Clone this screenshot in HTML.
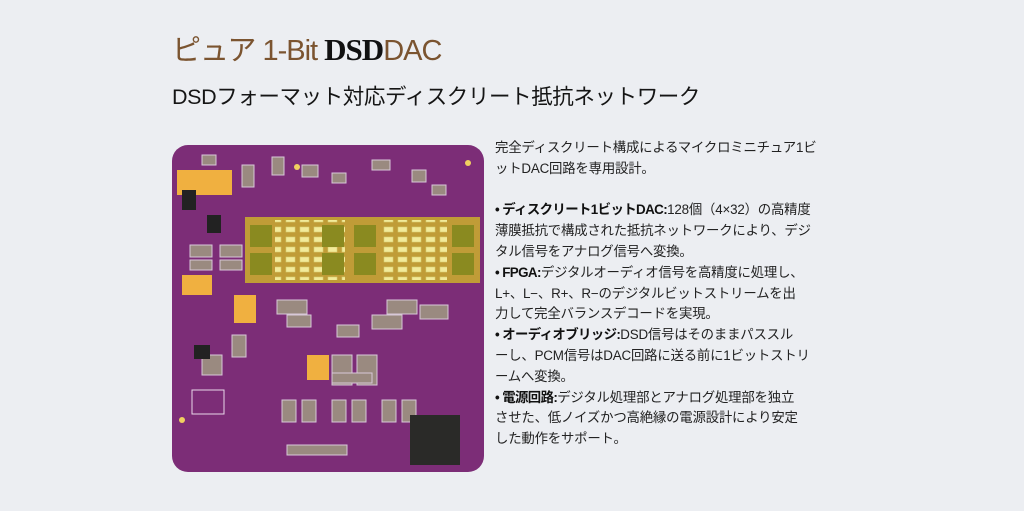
<!DOCTYPE html>
<html><head><meta charset="utf-8"><style>
body{margin:0;width:1024px;height:511px;background:#eceef2;position:relative;overflow:hidden;font-family:"Liberation Sans","Noto Sans CJK JP",sans-serif;}
.t1{position:absolute;left:172px;top:27px;font-size:29px;color:#7b5430;white-space:nowrap;letter-spacing:-1px}
.t1 b{font-family:"Liberation Serif","Noto Serif CJK SC",serif;color:#111;font-size:31px}
.t2{position:absolute;left:172px;top:80px;font-size:21.5px;color:#151515;white-space:nowrap;letter-spacing:-0.4px}
.txt{position:absolute;left:495px;top:138px;font-size:13.4px;line-height:20.8px;color:#222;white-space:nowrap;letter-spacing:-0.2px}
.txt b{font-weight:bold;color:#111;letter-spacing:-0.6px}
</style></head><body>
<div class="t1">ピュア 1-Bit <b>DSD</b>DAC</div>
<div class="t2">DSDフォーマット対応ディスクリート抵抗ネットワーク</div>
<svg style="position:absolute;left:172px;top:145px" width="312" height="327" viewBox="0 0 312 327">
<defs><clipPath id="c"><rect width="312" height="327" rx="16"/></clipPath>
<pattern id="p" width="14" height="10" patternUnits="userSpaceOnUse"><rect x="2" y="2" width="9" height="5" fill="#f2eb9a" stroke="#d8cf70" stroke-width="0.6"/></pattern></defs>
<g clip-path="url(#c)">
<rect width="312" height="327" fill="#7c2d77"/>
<g fill="#9a8a80" stroke="#d8c8d8" stroke-width="1">
<rect x="30" y="10" width="14" height="10"/><rect x="100" y="12" width="12" height="18"/><rect x="130" y="20" width="16" height="12"/><rect x="160" y="28" width="14" height="10"/><rect x="200" y="15" width="18" height="10"/><rect x="240" y="25" width="14" height="12"/><rect x="260" y="40" width="14" height="10"/><rect x="70" y="20" width="12" height="22"/>
<rect x="18" y="100" width="22" height="12"/><rect x="48" y="100" width="22" height="12"/><rect x="18" y="115" width="22" height="10"/><rect x="48" y="115" width="22" height="10"/>
<rect x="105" y="155" width="30" height="14"/><rect x="115" y="170" width="24" height="12"/><rect x="200" y="170" width="30" height="14"/><rect x="165" y="180" width="22" height="12"/>
<rect x="110" y="255" width="14" height="22"/><rect x="130" y="255" width="14" height="22"/><rect x="160" y="255" width="14" height="22"/><rect x="180" y="255" width="14" height="22"/><rect x="210" y="255" width="14" height="22"/><rect x="230" y="255" width="14" height="22"/>
<rect x="115" y="300" width="60" height="10"/><rect x="215" y="155" width="30" height="14"/><rect x="248" y="160" width="28" height="14"/>
<rect x="60" y="190" width="14" height="22"/><rect x="30" y="210" width="20" height="20"/><rect x="160" y="210" width="20" height="30"/><rect x="185" y="210" width="20" height="30"/><rect x="160" y="228" width="40" height="10"/>
</g>
<rect x="5" y="25" width="28" height="25" fill="#f0b040"/><rect x="32" y="25" width="28" height="25" fill="#f0b040"/>
<rect x="10" y="130" width="30" height="20" fill="#f0b040"/><rect x="62" y="150" width="22" height="28" fill="#f0b040"/><rect x="135" y="210" width="22" height="25" fill="#f0b040"/>
<rect x="10" y="45" width="14" height="20" fill="#222"/><rect x="35" y="70" width="14" height="18" fill="#222"/><rect x="22" y="200" width="16" height="14" fill="#222"/>
<rect x="20" y="245" width="32" height="24" fill="none" stroke="#e8d8e8"/>
<rect x="238" y="270" width="50" height="50" fill="#2a2a28"/>
<rect x="73" y="72" width="235" height="66" fill="#c8a830" opacity="0.9"/>
<rect x="103" y="75" width="70" height="60" fill="url(#p)"/><rect x="210" y="75" width="65" height="60" fill="url(#p)"/>
<g fill="#8a8a20"><rect x="78" y="80" width="22" height="22"/><rect x="78" y="108" width="22" height="22"/><rect x="150" y="80" width="22" height="22"/><rect x="150" y="108" width="22" height="22"/><rect x="182" y="80" width="22" height="22"/><rect x="182" y="108" width="22" height="22"/><rect x="280" y="80" width="22" height="22"/><rect x="280" y="108" width="22" height="22"/></g>
<circle cx="125" cy="22" r="3" fill="#f0d060"/><circle cx="296" cy="18" r="3" fill="#f0d060"/><circle cx="10" cy="275" r="3" fill="#f0d060"/>
</g></svg>
<div class="txt">完全ディスクリート構成によるマイクロミニチュア1ビ<br>ットDAC回路を専用設計。<br><br><b>• ディスクリート1ビットDAC:</b>128個（4×32）の高精度<br>薄膜抵抗で構成された抵抗ネットワークにより、デジ<br>タル信号をアナログ信号へ変換。<br><b>• FPGA:</b>デジタルオーディオ信号を高精度に処理し、<br>L+、L−、R+、R−のデジタルビットストリームを出<br>力して完全バランスデコードを実現。<br><b>• オーディオブリッジ:</b>DSD信号はそのままパススル<br>ーし、PCM信号はDAC回路に送る前に1ビットストリ<br>ームへ変換。<br><b>• 電源回路:</b>デジタル処理部とアナログ処理部を独立<br>させた、低ノイズかつ高絶縁の電源設計により安定<br>した動作をサポート。</div>
</body></html>
